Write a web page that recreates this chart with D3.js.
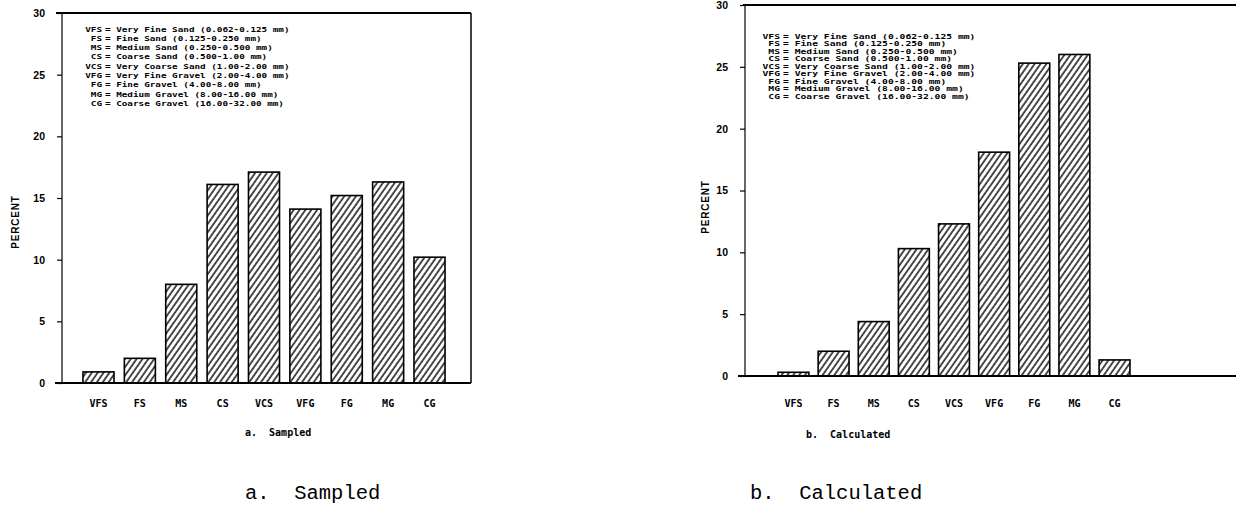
<!DOCTYPE html>
<html><head><meta charset="utf-8">
<script src="https://cdn.jsdelivr.net/npm/d3@7"></script>
<style>
html,body{margin:0;padding:0;background:#fff;}
svg{display:block;}
</style></head>
<body>
<svg id="chart" width="1236" height="512"></svg>
<script>
const categories = ["VFS","FS","MS","CS","VCS","VFG","FG","MG","CG"];
const sampledValues = [0.9, 2.0, 8.0, 16.1, 17.1, 14.1, 15.2, 16.3, 10.2];
const calculatedValues = [0.3, 2.0, 4.4, 10.3, 12.3, 18.1, 25.3, 26.0, 1.3];
const yTicks = [0, 5, 10, 15, 20, 25, 30];
const legendAbbr = ["VFS","FS","MS","CS","VCS","VFG","FG","MG","CG"];
const legendDesc = [
  "= Very Fine Sand (0.062-0.125 mm)",
  "= Fine Sand (0.125-0.250 mm)",
  "= Medium Sand (0.250-0.500 mm)",
  "= Coarse Sand (0.500-1.00 mm)",
  "= Very Coarse Sand (1.00-2.00 mm)",
  "= Very Fine Gravel (2.00-4.00 mm)",
  "= Fine Gravel (4.00-8.00 mm)",
  "= Medium Gravel (8.00-16.00 mm)",
  "= Coarse Gravel (16.00-32.00 mm)"
];
const panelTitles = ["a.  Sampled", "b.  Calculated"];

const svg = d3.select("#chart");
const defs = svg.append("defs");
const pat = defs.append("pattern").attr("id","hatch")
  .attr("patternUnits","userSpaceOnUse").attr("width",4.8).attr("height",10)
  .attr("patternTransform","rotate(35)");
pat.append("rect").attr("width",4.8).attr("height",10).attr("fill","#fff");
pat.append("line").attr("x1",1).attr("x2",1).attr("y1",0).attr("y2",10)
  .attr("stroke","#111").attr("stroke-width",1.5);

const panels = [
  {values: sampledValues, title: panelTitles[0],
   axisX: 62, y0: 383, y30: 13, xRange: [77.8, 450.2], pad: 0.25,
   rightX: 471, bottomStart: 55, topStart: 56, topEnd: 471, border: true,
   percentX: 16, percentY: 222, catY: 409,
   legX: 105, legY: 29, legDy: 9.3, legFont: 9.3,
   smallTitle: {x: 245, y: 436}, bigTitle: {x: 245, y: 499}},
  {values: calculatedValues, title: panelTitles[1],
   axisX: 745, y0: 376, y30: 5, xRange: [773.4, 1134.6], pad: 0.23,
   rightX: 1236, bottomStart: 738, topStart: 743, topEnd: 1236, border: false,
   percentX: 706, percentY: 207, catY: 409,
   legX: 783, legY: 36, legDy: 7.5, legFont: 9.7,
   smallTitle: {x: 806, y: 438}, bigTitle: {x: 750, y: 499}}
];

panels.forEach(p => {
  const g = svg.append("g");
  const y = d3.scaleLinear().domain([0, 30]).range([p.y0, p.y30]);
  const x = d3.scaleBand().domain(categories).range(p.xRange)
    .paddingInner(p.pad).paddingOuter(p.pad / 2);

  // bars
  g.selectAll("rect.bar").data(categories).join("rect").attr("class","bar")
    .attr("x", d => x(d))
    .attr("y", (d, i) => y(p.values[i]))
    .attr("width", x.bandwidth())
    .attr("height", (d, i) => y(0) - y(p.values[i]))
    .attr("fill", "url(#hatch)")
    .attr("stroke", "#000").attr("stroke-width", 1.6);

  // y axis
  const yAxis = d3.axisLeft(y).tickValues(yTicks).tickSize(5).tickPadding(12)
    .tickFormat(d3.format("d"));
  const ya = g.append("g").attr("transform", `translate(${p.axisX},0)`).call(yAxis);
  ya.select(".domain").remove();
  ya.selectAll(".tick line").attr("stroke","#000").attr("stroke-width",1.2);
  ya.selectAll(".tick text")
    .attr("font-family","Liberation Sans, Arial, sans-serif")
    .attr("font-weight","bold").attr("font-size",10.5).attr("fill","#000");
  g.append("line").attr("x1",p.axisX).attr("x2",p.axisX)
    .attr("y1",p.y30).attr("y2",p.y0).attr("stroke","#000").attr("stroke-width",1.2);

  // top line and bottom axis line
  g.append("line").attr("x1",p.topStart).attr("x2",p.topEnd)
    .attr("y1",p.y30).attr("y2",p.y30).attr("stroke","#000").attr("stroke-width",2.2);
  g.append("line").attr("x1",p.bottomStart).attr("x2",p.rightX)
    .attr("y1",p.y0).attr("y2",p.y0).attr("stroke","#000").attr("stroke-width",2.2);
  if (p.border) {
    g.append("line").attr("x1",p.rightX).attr("x2",p.rightX)
      .attr("y1",p.y30).attr("y2",p.y0).attr("stroke","#000").attr("stroke-width",1.5);
  }

  // category labels via bottom axis (no lines)
  const xa = g.append("g").attr("transform", `translate(0,${p.catY - 9})`)
    .call(d3.axisBottom(x).tickSize(0).tickPadding(0));
  xa.select(".domain").remove();
  xa.selectAll(".tick text")
    .attr("font-family","DejaVu Sans Mono, monospace")
    .attr("font-weight","bold").attr("font-size",10).attr("fill","#000");

  // PERCENT label
  g.append("text").attr("transform",`translate(${p.percentX},${p.percentY}) rotate(-90)`)
    .attr("text-anchor","middle").attr("dominant-baseline","middle")
    .attr("font-family","Liberation Sans, Arial, sans-serif")
    .attr("font-weight","bold").attr("font-size",10).attr("letter-spacing",0.8)
    .text("PERCENT");

  // legend
  const lg = g.append("g");
  legendAbbr.forEach((a, i) => {
    const ly = p.legY + i * p.legDy + 2.5;
    const row = lg.append("g").attr("transform",`translate(0,${ly}) scale(1,0.72)`);
    row.append("text").attr("x", p.legX - 3).attr("text-anchor","end")
      .attr("font-family","DejaVu Sans Mono, monospace").attr("font-weight","bold")
      .attr("font-size", p.legFont).text(a);
    row.append("text").attr("x", p.legX)
      .attr("font-family","DejaVu Sans Mono, monospace").attr("font-weight","bold")
      .attr("font-size", p.legFont).text(legendDesc[i]);
  });

  // small title under chart
  g.append("text").attr("x", p.smallTitle.x).attr("y", p.smallTitle.y)
    .attr("font-family","DejaVu Sans Mono, monospace").attr("font-weight","bold")
    .attr("font-size",10).style("white-space","pre")
    .text(p.title);

  // big caption
  g.append("text").attr("x", p.bigTitle.x).attr("y", p.bigTitle.y)
    .attr("font-family","Liberation Mono, Courier New, monospace")
    .attr("font-size",20.5).style("white-space","pre")
    .text(p.title);
});
</script>
</body></html>
